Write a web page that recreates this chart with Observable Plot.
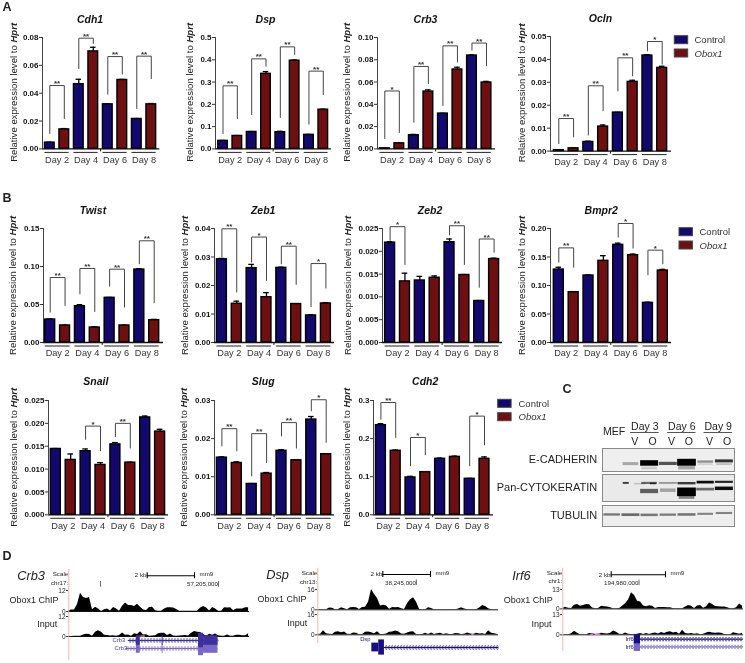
<!DOCTYPE html>
<html><head><meta charset="utf-8">
<script src="https://cdn.jsdelivr.net/npm/d3@7"></script>
<script src="https://cdn.jsdelivr.net/npm/@observablehq/plot@0.6"></script>
<style>
html,body{margin:0;padding:0;background:#fff}
#page{position:relative;width:745px;height:663px;overflow:hidden;background:#fff;filter:blur(0.35px);font-family:"Liberation Sans",Arial,sans-serif}
</style></head><body><div id="page"></div>
<script>
const days = ["Day 2","Day 4","Day 6","Day 8"];
const series = ["Control","Obox1"];
const colors = ["#12086e","#6e0f12"];
// values: [day2, day4, day6, day8]; *_err: same order, control then Obox1
// *_sig: [day index, left leg end, right leg end, bracket top, stars]
const Cdh1_control=[.0045,.0465,.032,.0215], Cdh1_obox=[.014,.07,.0495,.032];
const Cdh1_cerr=[.0003,.0035,.0003,.0003], Cdh1_oerr=[.0006,.003,.0004,.0006];
const Cdh1_sig=[[0,.011,.0218,.0455,"**"],[1,.0577,.0757,.0795,"**"],[2,.0393,.0537,.0663,"**"],[3,.029,.0505,.0666,"**"]];
const Dsp_control=[.036,.076,.075,.063], Dsp_obox=[.058,.337,.396,.176];
const Dsp_cerr=[.002,.002,.004,.002], Dsp_oerr=[.002,.01,.003,.002];
const Dsp_sig=[[0,.069,.136,.283,"**"],[1,.154,.371,.404,"**"],[2,.141,.424,.458,"**"],[3,.111,.244,.349,"**"]];
const Crb3_control=[.0005,.0123,.0317,.0838], Crb3_obox=[.005,.0515,.0713,.0596];
const Crb3_cerr=[.0001,.0007,.0002,.0005], Crb3_oerr=[.0004,.0015,.002,.001];
const Crb3_sig=[[0,.0093,.0147,.052,"*"],[1,.024,.0587,.074,"**"],[2,.039,.078,.0925,"**"],[3,.0886,.0746,.095,"**"]];
const Ocln_control=[.0004,.004,.0168,.0417], Ocln_obox=[.0012,.0107,.0302,.0363];
const Ocln_cerr=[.0001,.0003,.0001,.0004], Ocln_oerr=[.0002,.0007,.0007,.0007];
const Ocln_sig=[[0,.0033,.0062,.0142,"**"],[1,.007,.0176,.0285,"**"],[2,.0263,.0328,.0407,"**"],[3,.0437,.0379,.0478,"*"]];
const Twist_control=[.0303,.0478,.0588,.096], Twist_obox=[.0224,.0197,.0224,.0294];
const Twist_cerr=[.0005,.002,.0005,.001], Twist_oerr=[.0005,.001,.0004,.001];
const Twist_sig=[[0,.04,.0487,.0855,"**"],[1,.064,.0408,.0974,"**"],[2,.0741,.0465,.0965,"**"],[3,.1035,.0522,.1338,"**"]];
const Zeb1_control=[.0292,.0261,.0262,.0095], Zeb1_obox=[.0136,.0159,.0135,.0137];
const Zeb1_cerr=[.0003,.0013,.0002,.0002], Zeb1_oerr=[.0009,.0016,.0001,.0003];
const Zeb1_sig=[[0,.03,.0177,.0399,"**"],[1,.0282,.0218,.037,"*"],[2,.0276,.0204,.0338,"**"],[3,.0126,.0191,.0277,"*"]];
const Zeb2_control=[.0219,.0136,.022,.0091], Zeb2_obox=[.0134,.0142,.0148,.0183];
const Zeb2_cerr=[.0002,.0009,.0007,.0001], Zeb2_oerr=[.0018,.0004,.0001,.0002];
const Zeb2_sig=[[0,.0224,.0171,.0254,"*"],[2,.0236,.0171,.0256,"**"],[3,.0121,.0198,.0227,"**"]];
const Bmpr2_control=[.128,.1175,.1713,.0696], Bmpr2_obox=[.0883,.1433,.1532,.1263];
const Bmpr2_cerr=[.004,.001,.003,.001], Bmpr2_oerr=[.001,.009,.002,.002];
const Bmpr2_sig=[[0,.141,.132,.166,"**"],[2,.1848,.1655,.2088,"*"],[3,.1187,.138,.162,"*"]];
const Snail_control=[.0144,.0139,.0154,.0213], Snail_obox=[.012,.0109,.0114,.0182];
const Snail_cerr=[.0001,.0005,.0004,.0003], Snail_oerr=[.0013,.0005,.0001,.0005];
const Snail_sig=[[1,.0165,.014,.0194,"*"],[2,.0171,.0146,.02,"**"]];
const Slug_control=[.015,.0081,.0168,.025], Slug_obox=[.0136,.0108,.0143,.0159];
const Slug_cerr=[.0002,.0001,.0003,.0008], Slug_oerr=[.0003,.0003,.0001,.0001];
const Slug_sig=[[0,.0181,.0168,.0226,"**"],[1,.0102,.0137,.0213,"**"],[2,.0207,.0175,.0242,"**"],[3,.0273,.019,.0302,"*"]];
const Cdh2_control=[.2353,.098,.147,.0945], Cdh2_obox=[.168,.112,.152,.147];
const Cdh2_cerr=[.004,.003,.002,.001], Cdh2_oerr=[.002,.001,.002,.005];
const Cdh2_sig=[[0,.251,.203,.2947,"**"],[1,.1286,.1574,.203,"*"],[3,.1286,.1837,.259,"*"]];

// western blot: [lane (0 MEF, 1-6), migration 0-1, band height 0-1, intensity, half width in lanes]
const eCadherin=[[1,.68,.13,.3,.42],[2,.65,.24,1,.48],[2,.87,.12,.15,.42],[3,.67,.14,.65,.48],[4,.62,.3,1,.5],[4,.85,.16,.3,.45],[5,.59,.1,.4,.42],[5,.7,.08,.12,.4],[6,.56,.13,.8,.48],[6,.7,.08,.2,.42]];
const panCytokeratin=[[.75,.33,.07,.75,.16],[1.5,.36,.05,.2,.3],[2,.33,.08,.55,.42],[2.2,.35,.06,.7,.16],[2,.63,.16,.6,.48],[3,.33,.07,.35,.48],[3,.6,.13,.3,.42],[4,.34,.09,.75,.48],[4,.66,.32,1,.5],[4,.86,.12,.45,.42],[5,.3,.1,.95,.46],[5,.56,.1,.55,.48],[6,.29,.08,.85,.48],[6,.53,.13,.95,.48]];
const tubulin=[[0,.45,.11,.5,.44],[1,.46,.13,.55,.48],[2,.47,.12,.5,.46],[3,.46,.11,.48,.44],[4,.45,.12,.52,.48],[5,.42,.1,.45,.42],[6,.38,.1,.45,.44]];

// ChIP-seq signal, read bin by bin across each browser window
const crb3Chip=[.3,.8,.8,4,10.5,8,7.5,8,1,2.5,1.5,0,1,1.4,.3,2.3,1.5,.2,3,4.8,3.4,3.4,2.8,4.2,2.5,.8,.6,2.3,2.5,.5,.2,.2,1.5,2.2,2.2,2,1.2,.1,.1,.1,.1,.1,.1,.1,2,2.8,2,.3,2.3,1.5,.2,.2,2.2,2,2.2,.4,1.5,1.5,1.4,2.2,2.2];
const crb3Input=[0,0,.2,.2,.1,.9,1.3,1.2,.2,2.6,3.4,2.6,.8,.6,.3,.5,.2,.6,2.1,.8,.9,.2,1.6,1.2,2.8,.9,1,.2,.3,.4,1.6,2,2,.6,1.5,.3,.1,.3,.4,.6,.3,2,3,2.6,2.4,1.2,.2,1.3,.8,1.5,.4,.1,.2,.9,.1,.1,.7,.8,.5,.5,1.6];
const dspChip=[0,0,0,0,1.5,1.2,0,.2,1.6,.8,.1,1.6,1.8,1.6,.2,1.8,2,6,16,12,9,3,3.5,3,.5,1.8,1.6,1.8,.8,.3,5,8,9.5,6,.2,.1,.1,1.6,1,.1,.1,.1,.1,.1,.1,.1,.1,.6,1.6,.6,.1,.1,.1,.1,1.5,3.4,2.6,.8,.1,.1,.1];
const dspInput=[.2,.4,3.2,.8,.4,.3,2,2.4,1.6,2.2,.4,.2,1.5,1.2,.1,.3,2,2.2,1.6,.8,2.4,.2,.2,.6,2,2.2,3,2.4,.6,.4,1.5,2.2,2.4,.2,.1,.3,1.2,.3,1.5,.2,.8,1.2,.3,.8,.2,.3,1.1,.9,.2,.5,1.4,.6,.3,1.2,.7,.8,.2,3.2,1.2,.8,.3];
const irf6Chip=[.3,1.1,.4,.2,2.5,2.9,1.8,2.2,2.9,2.8,.6,.1,.3,1.8,1.4,1.2,.8,.1,.1,.2,1.8,3.5,6,10.8,9,5.2,4.6,2,1.4,2.1,1.8,.2,.9,.9,.9,.8,.8,.1,.1,.1,.1,1.2,2.2,1.8,.2,2,2.2,.4,1.5,4,3,1.6,1.5,1.2,1.2,.8,.1,.1,.8,3.2,1.8];
const irf6Input=[0,0,.1,.6,2.2,1,.1,0,.1,.8,.7,.2,.3,1,.6,.5,1,2.4,1.6,.3,.2,1.1,.4,.2,.1,.3,.9,.2,.8,.2,.9,1.2,.5,1.4,.9,1.6,2,1.1,1.7,.3,2.9,.8,.5,.9,.3,.7,.1,.3,1.2,1.6,1.2,1,1.2,1,.2,.1,.1,1.3,.9,.3,1];
// gene models: [row, start bin, end bin, half height]
const crb3Exons=[[0,22.6,23.9,.6],[0,31.2,31.5,.6],[0,43.3,45,.9],[0,45,49.8,.6],[1,22.6,23.9,.6],[1,31.2,31.5,.6],[1,43.3,45,.9],[1,45,49.8,.6]];
const dspExons=[[0,18.1,20.4,.55],[0,20.4,22.3,.95]];
const irf6Exons=[[0,23.9,26,.6],[1,23.9,26,.6]];

const common={style:{background:"transparent",overflow:"visible",fontFamily:"Liberation Sans, Arial, sans-serif"}};
const page=document.getElementById("page");
function place(svg,left,top){
  svg.style.position="absolute";svg.style.left=left+"px";svg.style.top=top+"px";svg.style.maxWidth="none";
  page.appendChild(svg);return svg;
}

function barPanel(p,control,obox,cerr,oerr,sig){
  const ML=34,MR=6,MT=24,MB=24,plotW=p.xEnd-p.axisX,plotH=p.base-p.top;
  const step=(p.c7-p.c0)/7;
  const toX=px=>(px-p.c0)/step;
  const bars=[];
  days.forEach((d,k)=>{
    bars.push({i:2*k,v:control[k],e:cerr[k],s:series[0]});
    bars.push({i:2*k+1,v:obox[k],e:oerr[k],s:series[1]});
  });
  const legs=sig.flatMap(([k,l,r,t])=>[
    {id:k,x:2*k,y:l},{id:k,x:2*k,y:t},{id:k,x:2*k+1,y:t},{id:k,x:2*k+1,y:r}]);
  const hw=.335;
  const below=px=>-px*p.ymax/plotH;
  const svg=Plot.plot({...common,
    width:ML+plotW+MR,height:MT+plotH+MB,marginLeft:ML,marginRight:MR,marginTop:MT,marginBottom:MB,
    x:{domain:[toX(p.axisX),toX(p.xEnd)],axis:null},
    y:{domain:[0,p.ymax],axis:null},
    color:{domain:series,range:colors},
    marks:[
      Plot.ruleX(bars,{x:"i",y1:"v",y2:d=>d.v+d.e,stroke:"#000",strokeWidth:1.3}),
      Plot.ruleY(bars,{y:d=>d.v+d.e,x1:d=>d.i-.19,x2:d=>d.i+.19,stroke:"#000",strokeWidth:1.3}),
      Plot.rectY(bars,{x1:d=>d.i-hw,x2:d=>d.i+hw,y:"v",fill:"s",stroke:"#000",strokeWidth:1.4}),
      Plot.ruleX([toX(p.axisX)],{y1:0,y2:p.ymax,stroke:"#444",strokeWidth:1}),
      Plot.axisY(p.ticks,{tickFormat:d3.format(p.fmt),tickSize:3,tickPadding:1,fontSize:8,fontWeight:"bold",fill:"#111",stroke:"#333",label:null}),
      Plot.ruleY([0],{stroke:"#111",strokeWidth:1.3}),
      Plot.ruleX([3.5],{y1:0,y2:below(3),stroke:"#222",strokeWidth:1}),
      Plot.ruleY(days,{y:0,dy:3.5,x1:(d,k)=>2*k-hw,x2:(d,k)=>2*k+1+hw,stroke:"#222",strokeWidth:1}),
      Plot.text(days,{x:(d,k)=>2*k+.5,y:0,dy:11,text:d=>d,fontSize:9.2,fill:"#333"}),
      Plot.line(legs,{x:"x",y:"y",z:"id",stroke:"#444",strokeWidth:1}),
      Plot.text(sig,{x:d=>2*d[0]+.5,y:d=>d[3],text:d=>d[4],dy:-2,fontSize:8,fontWeight:"bold",fill:"#333"}),
      Plot.text([p.gene],{x:toX(p.titleX),y:p.ymax,dy:p.titleY-p.top,text:d=>d,fontSize:10.5,fontWeight:"bold",fontStyle:"italic",fill:"#111"})
    ]});
  const lab=d3.select(svg).append("text")
    .attr("transform",`translate(${ML+p.labelX-p.axisX},${MT+p.labelY-p.top}) rotate(-90)`)
    .attr("text-anchor","middle").attr("dominant-baseline","middle")
    .attr("font-size",9.6).attr("fill","#222");
  lab.append("tspan").text("Relative expression level to ");
  lab.append("tspan").attr("font-style","italic").attr("font-weight","bold").text("Hprt");
  place(svg,p.axisX-ML,p.top-MT);
}

const row1={top:37.3,base:148.7,titleY:19.7,labelY:92.7};
const row2={top:228,base:342,titleY:210,labelY:285.3};
const row3={top:399.7,base:514,titleY:381,labelY:457};
const t5=(s,n)=>d3.range(n+1).map(i=>+(i*s).toFixed(3));
barPanel({...row1,gene:"Cdh1",axisX:41.7,xEnd:159,c0:49,c7:150.5,ymax:.08,ticks:t5(.02,4),fmt:".2f",titleX:89.3,labelX:13.3},Cdh1_control,Cdh1_obox,Cdh1_cerr,Cdh1_oerr,Cdh1_sig);
barPanel({...row1,gene:"Dsp",axisX:215,xEnd:331,c0:222.5,c7:322.8,ymax:.5,ticks:t5(.1,5),fmt:".1f",titleX:265,labelX:190},Dsp_control,Dsp_obox,Dsp_cerr,Dsp_oerr,Dsp_sig);
barPanel({...row1,gene:"Crb3",axisX:377,xEnd:495,c0:384.3,c7:486,ymax:.1,ticks:t5(.02,5),fmt:".2f",titleX:425,labelX:347},Crb3_control,Crb3_obox,Crb3_cerr,Crb3_oerr,Crb3_sig);
barPanel({...row1,gene:"Ocln",top:35.7,base:150.3,axisX:550,xEnd:671,c0:558.3,c7:661.7,ymax:.05,ticks:t5(.01,5),fmt:".2f",titleX:600,titleY:17.7,labelX:521.7,labelY:92.5},Ocln_control,Ocln_obox,Ocln_cerr,Ocln_oerr,Ocln_sig);
barPanel({...row2,gene:"Twist",axisX:43.3,xEnd:163.3,c0:50,c7:154,ymax:.15,ticks:t5(.05,3),fmt:".2f",titleX:92.7,labelX:13.3},Twist_control,Twist_obox,Twist_cerr,Twist_oerr,Twist_sig);
barPanel({...row2,gene:"Zeb1",axisX:214.3,xEnd:334.3,c0:221.7,c7:325.7,ymax:.04,ticks:t5(.01,4),fmt:".2f",titleX:263,labelX:185},Zeb1_control,Zeb1_obox,Zeb1_cerr,Zeb1_oerr,Zeb1_sig);
barPanel({...row2,gene:"Zeb2",axisX:381.7,xEnd:501.7,c0:389.3,c7:493.3,ymax:.025,ticks:t5(.005,5),fmt:".3f",titleX:429.3,labelX:347.3},Zeb2_control,Zeb2_obox,Zeb2_cerr,Zeb2_oerr,Zeb2_sig);
barPanel({...row2,gene:"Bmpr2",axisX:550,xEnd:671,c0:558.3,c7:662.3,ymax:.2,ticks:t5(.05,4),fmt:".2f",titleX:600.7,labelX:521.7},Bmpr2_control,Bmpr2_obox,Bmpr2_cerr,Bmpr2_oerr,Bmpr2_sig);
barPanel({...row3,gene:"Snail",axisX:47.7,xEnd:167.7,c0:55,c7:159.3,ymax:.025,ticks:t5(.005,5),fmt:".3f",titleX:95,labelX:13.3},Snail_control,Snail_obox,Snail_cerr,Snail_oerr,Snail_sig);
barPanel({...row3,gene:"Slug",axisX:214.3,xEnd:334.3,c0:221.7,c7:326,ymax:.03,ticks:t5(.01,3),fmt:".2f",titleX:263,labelX:184.3},Slug_control,Slug_obox,Slug_cerr,Slug_oerr,Slug_sig);
barPanel({...row3,gene:"Cdh2",axisX:373.3,xEnd:493.3,c0:380.7,c7:484.3,ymax:.3,ticks:t5(.1,3),fmt:".1f",titleX:425,labelX:347.7},Cdh2_control,Cdh2_obox,Cdh2_cerr,Cdh2_oerr,Cdh2_sig);

// western blots
function blot(bands,top,bottom,bg){
  const svg=Plot.plot({...common,width:134,height:bottom-top+2,margin:1,
    x:{domain:[(602.3-612)/18.7,(734.3-612)/18.7],axis:null},
    y:{domain:[1,0],axis:null},
    marks:[
      Plot.frame({fill:bg,stroke:"none"}),
      Plot.rect(bands,{ariaLabel:"band",x1:d=>d[0]-d[4],x2:d=>d[0]+d[4],y1:d=>d[1]-d[2]/2,y2:d=>d[1]+d[2]/2,fill:"#000",fillOpacity:d=>d[3]}),
      Plot.frame({stroke:"#8a8a8a",strokeWidth:1})
    ]});
  d3.select(svg).selectAll('g[aria-label="band"]').style("filter","blur(1.1px)");
  place(svg,601.3,top-1);
}
blot(eCadherin,447.7,470.7,"#efefef");
blot(panCytokeratin,474.3,501.3,"#eaeaea");
blot(tubulin,505.3,526.3,"#eeeeee");

// browser tracks
function track(values,ymax,tickLabel,left,right,top,base,pink){
  const ML=16;
  const marks=[
    Plot.areaY(values,{x:(d,i)=>i,y:d=>d,fill:"#000"}),
    Plot.ruleY([0],{stroke:"#111",strokeWidth:1}),
    Plot.axisY([0,ymax],{tickSize:2,tickPadding:1,fontSize:6.5,fill:"#222",stroke:"#333",label:null,tickFormat:d=>d})
  ];
  if(pink) marks.push(Plot.ruleY(pink,{y:0,dy:-.5,x1:d=>d[0],x2:d=>d[1],stroke:"#e26ee2",strokeWidth:1.4}));
  const svg=Plot.plot({...common,width:right-left+ML+1,height:base-top+4,marginLeft:ML,marginRight:1,marginTop:2,marginBottom:2,
    x:{domain:[0,60.3],axis:null},y:{domain:[0,ymax],axis:null},marks});
  place(svg,left-ML,top-2);
}
const crb3Pink=[[24.1,25.6]],dspPink=[[51.4,52.2]],irf6Pink=[[9.4,10.3],[10.9,12.8]];
track(crb3Chip,12,"12",68.3,249.3,589.7,610.7);
track(crb3Input,12,"12",68.3,249.3,615.7,635.7,crb3Pink);
track(dspChip,16,"16",317.3,498.3,588.7,609);
track(dspInput,16,"16",317.3,498.3,614,634.3,dspPink);
track(irf6Chip,13,"13",562.3,743.3,589.3,608.7);
track(irf6Input,13,"13",562.3,743.3,614,634.3,irf6Pink);

function gene(exons,introns,left,right,row0,gap,rowColors){
  const svg=Plot.plot({...common,width:right-left,height:gap*3,margin:0,
    x:{domain:[0,60.3],axis:null},y:{domain:[-1,2],axis:null},
    marks:[
      Plot.ruleY(introns,{y:d=>d[0],x1:d=>d[1],x2:d=>d[2],stroke:d=>rowColors[d[0]],strokeWidth:1}),
      Plot.dot(introns.flatMap(d=>d3.range(d[1]+.6,d[2],1).map(x=>[d[0],x])),{x:d=>d[1],y:d=>d[0],symbol:"diamond",r:1.3,stroke:d=>rowColors[d[0]],strokeWidth:.6,fill:"none"}),
      Plot.rect(exons,{x1:d=>d[1],x2:d=>d[2],y1:d=>d[0]-d[3],y2:d=>d[0]+d[3],fill:d=>rowColors[d[0]]})
    ]});
  place(svg,left,row0-gap);
}
gene(crb3Exons,[[0,19.2,49.8],[1,19.9,49.8]],68.3,249.3,640,8,["#7a68c8","#3d2f9c"]);
gene(dspExons,[[0,22.3,60.3]],317.3,498.3,639,8,["#1a0f80"]);
gene(irf6Exons,[[0,23.9,60.3],[1,23.9,60.3]],562.3,743.3,639,7.7,["#7a68c8","#1a0f80"]);

// annotation layer: legends, panel letters, blot labels, browser labels
const labels=[
 ["A",2,6.5,"start",12.5,"bold"],["B",2,197.3,"start",12.5,"bold"],["C",562,388.7,"start",12.5,"bold"],["D",2,555,"start",12.5,"bold"],
 ["MEF",613.6,430.7,"middle",10.5],["Day 3",644.3,426,"middle",10.5],["Day 6",681.3,426,"middle",10.5],["Day 9",717.7,426,"middle",10.5],
 ["V",634.3,441,"middle",10.5],["O",652,441,"middle",10.5],["V",671,441,"middle",10.5],["O",688.3,441,"middle",10.5],["V",709,441,"middle",10.5],["O",726.7,441,"middle",10.5],
 ["E-CADHERIN",596.7,458.7,"end",11],["Pan-CYTOKERATIN",596.7,487,"end",11],["TUBULIN",596.7,515.3,"end",11],
 ["Crb3",16.7,575.7,"start",12.8,"normal","italic"],["Dsp",265.7,574,"start",12.8,"normal","italic"],["Irf6",511.7,575.3,"start",12.8,"normal","italic"],
 ["Obox1 ChIP",58,600,"end",9],["Input",56.7,624,"end",9],["Obox1 ChIP",306,599,"end",9],["Input",306.7,623,"end",9],["Obox1 ChIP",552.3,600,"end",9],["Input",551,624,"end",9],
 ["Scale",67.7,574,"end",6.2],["chr17:",67.7,582.7,"end",6.2],["2 kb",146,575,"end",6.2],["mm9",199,574,"start",6.2],["57,205,000",217.5,583.5,"end",6.2],
 ["Scale",316.7,572.3,"end",6.2],["chr13:",316.7,581.3,"end",6.2],["2 kb",381.7,574,"end",6.2],["mm9",435,572.8,"start",6.2],["38,245,000",415.5,582.7,"end",6.2],
 ["Scale",561.7,572.3,"end",6.2],["chr1:",561.7,581,"end",6.2],["2 kb",610,574.3,"end",6.2],["mm9",670,572.8,"start",6.2],["194,980,000",638,582.7,"end",6.2],
 ["Crb3",124.7,640,"end",5.8,"normal","normal","#3d2f9c"],["Crb3",126.7,648,"end",5.8,"normal","normal","#3d2f9c"],["Dsp",370,639,"end",5.8,"normal","normal","#1a0f80"],["Irf6",633.3,639,"end",5.8,"normal","normal","#1a0f80"],["Irf6",633.3,646.7,"end",5.8,"normal","normal","#1a0f80"]
];
const legends=[[674.3,35.7,49,694],[679,227.7,241,699],[497.7,399.3,412.7,518]];
const scaleBars=[[146.7,194,575.3],[382.3,430,574],[610.7,665,574.3]];
const pinkLines=[[68.3,569,660],[317.3,567.7,643],[562.3,567.7,651]];
const blotRules=[[630,658.7],[667,695.5],[703.5,732]];
const anno=Plot.plot({...common,width:745,height:663,margin:0,
  x:{domain:[0,745],range:[0,745],axis:null},y:{domain:[0,663],range:[0,663],axis:null},
  marks:[
    ...labels.map(d=>Plot.text([d],{x:d[1],y:d[2],text:d=>d[0],textAnchor:d[3],fontSize:d[4],fontWeight:d[5]||"normal",fontStyle:d[6]||"normal",fill:d[7]||"#222"})),
    ...legends.flatMap(l=>[
      Plot.rect([0],{x1:l[0],x2:l[0]+13.4,y1:l[1],y2:l[1]+8,fill:colors[0],stroke:"#444"}),
      Plot.rect([0],{x1:l[0],x2:l[0]+13.4,y1:l[2],y2:l[2]+8,fill:colors[1],stroke:"#444"}),
      Plot.text(["Control"],{x:l[3],y:l[1]+4,text:d=>d,textAnchor:"start",fontSize:9.5,fill:"#333"}),
      Plot.text(["Obox1"],{x:l[3],y:l[2]+4,text:d=>d,textAnchor:"start",fontSize:9.5,fontStyle:"italic",fill:"#333"})
    ]),
    Plot.ruleY(scaleBars,{y:d=>d[2],x1:d=>d[0],x2:d=>d[1],stroke:"#000",strokeWidth:1.1}),
    Plot.ruleX(scaleBars.flatMap(d=>[[d[0],d[2]],[d[1],d[2]]]),{x:d=>d[0],y1:d=>d[1]-3,y2:d=>d[1]+3,stroke:"#000",strokeWidth:1.1}),
    Plot.ruleX(pinkLines,{x:d=>d[0],y1:d=>d[1],y2:d=>d[2],stroke:"#f4b4b0",strokeWidth:1}),
    Plot.ruleY(blotRules,{y:432,x1:d=>d[0],x2:d=>d[1],stroke:"#555",strokeWidth:1}),
    Plot.ruleX([[100,581,586.7],[218,581,586.7],[415.9,579.5,585],[638.5,579.5,585]],{x:d=>d[0],y1:d=>d[1],y2:d=>d[2],stroke:"#444",strokeWidth:.8})
  ]});
place(anno,0,0);
</script></body></html>
